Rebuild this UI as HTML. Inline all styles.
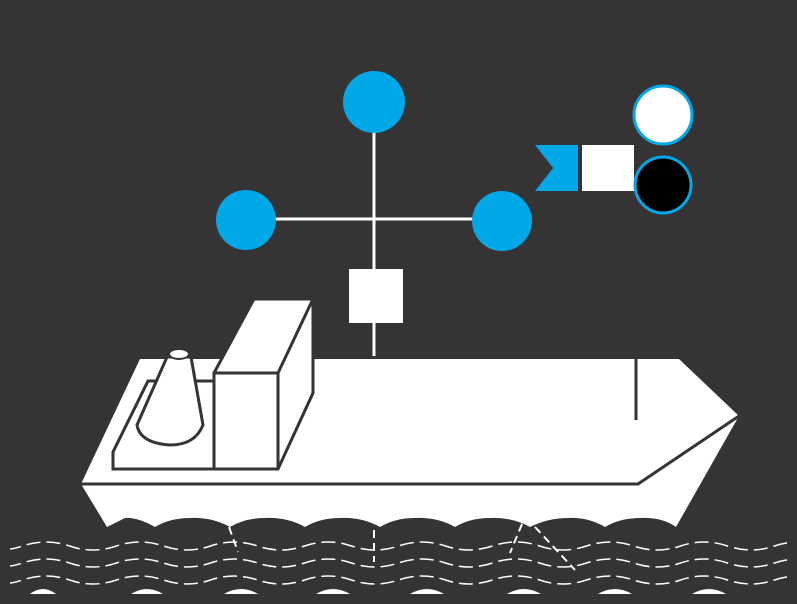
<!DOCTYPE html>
<html><head><style>html,body{margin:0;padding:0;background:#353334;}svg{display:block}</style></head>
<body>
<svg width="797" height="604" viewBox="0 0 797 604" xmlns="http://www.w3.org/2000/svg">
<defs>
<path id="w" d="M-71.5,0 q23.5,-8 47,0 q23.5,8 47,0 q23.5,-8 47,0 q23.5,8 47,0 q23.5,-8 47,0 q23.5,8 47,0 q23.5,-8 47,0 q23.5,8 47,0 q23.5,-8 47,0 q23.5,8 47,0 q23.5,-8 47,0 q23.5,8 47,0 q23.5,-8 47,0 q23.5,8 47,0 q23.5,-8 47,0 q23.5,8 47,0 q23.5,-8 47,0 q23.5,8 47,0 q23.5,-8 47,0 q23.5,8 47,0"/>
<clipPath id="c"><rect x="10" y="530" width="778" height="70"/></clipPath>
</defs>
<rect width="797" height="604" fill="#353334"/>
<line x1="374" y1="102" x2="374" y2="356" stroke="#fff" stroke-width="3"/>
<line x1="246" y1="219" x2="502" y2="219" stroke="#fff" stroke-width="3"/>
<circle cx="374" cy="102" r="31" fill="#00a8e8"/>
<circle cx="246" cy="220" r="30" fill="#00a8e8"/>
<circle cx="502" cy="221" r="30" fill="#00a8e8"/>
<rect x="349" y="269" width="54" height="54" fill="#fff"/>
<polygon points="535,145 578,145 578,191 535,191 553,168" fill="#00a8e8"/>
<rect x="582" y="145" width="52" height="46" fill="#fff"/>
<circle cx="663" cy="115" r="29" fill="#fff" stroke="#00a8e8" stroke-width="3"/>
<circle cx="663" cy="185" r="28" fill="#000" stroke="#00a8e8" stroke-width="3"/>
<path d="M140,359 L679,359 L739,416 L676,527 Q662,517 640,518 Q620,518 605,527 Q588,517 568,518 Q548,518 530,527 Q512,517 490,518 Q470,518 455,527 Q437,517 415,518 Q395,518 380,527 Q362,517 340,518 Q320,518 305,527 Q287,517 265,518 Q245,518 230,527 Q212,517 190,518 Q170,518 155,527 Q137,517 125,518 L107,527 L81,484 Z" fill="#fff"/>
<polyline points="81,484 638,484 739,416" fill="none" stroke="#353334" stroke-width="3"/>
<line x1="636" y1="359" x2="636" y2="420" stroke="#353334" stroke-width="3"/>
<path d="M113,469 L113,452 L148,381 L214,381 L214,469 Z" fill="#fff" stroke="#353334" stroke-width="3"/>
<path d="M167,357 L191,357 L203,425 Q195,445 170,445 Q140,443 137,425 Z" fill="#fff" stroke="#353334" stroke-width="3"/>
<ellipse cx="179" cy="354" rx="10" ry="5" fill="#fff" stroke="#353334" stroke-width="2"/>
<polygon points="214,373 254,299 313,299 313,393 278,469 214,469" fill="#fff"/>
<polyline points="214,373 254,299 313,299 313,393 278,469 214,469 214,373 278,373 313,299" fill="none" stroke="#353334" stroke-width="3"/>
<line x1="278" y1="373" x2="278" y2="469" stroke="#353334" stroke-width="3"/>
<g fill="none" stroke="#fff" stroke-width="1.5" stroke-dasharray="14 6" clip-path="url(#c)">
<use href="#w" y="546"/>
<use href="#w" y="563"/>
<use href="#w" y="580"/>
</g>
<g fill="#fff">
<path d="M30,594 Q43,584 56,594 Z"/><path d="M131,594 Q147,584 163,594 Z"/>
<path d="M224,594 Q241,584 258,594 Z"/><path d="M316,594 Q333,584 350,594 Z"/>
<path d="M410,594 Q427,584 444,594 Z"/><path d="M507,594 Q524,584 541,594 Z"/>
<path d="M598,594 Q615,584 632,594 Z"/><path d="M692,594 Q709,584 726,594 Z"/>
</g>
<line x1="374" y1="530" x2="374" y2="562" stroke="#fff" stroke-width="2" stroke-dasharray="8 5"/>
<line x1="229" y1="527" x2="238" y2="552" stroke="#fff" stroke-width="2" stroke-dasharray="8 5"/>
<line x1="522" y1="524" x2="510" y2="553" stroke="#fff" stroke-width="2" stroke-dasharray="8 5"/>
<line x1="535" y1="527" x2="575" y2="570" stroke="#fff" stroke-width="2" stroke-dasharray="8 5"/>
</svg>
</body></html>
